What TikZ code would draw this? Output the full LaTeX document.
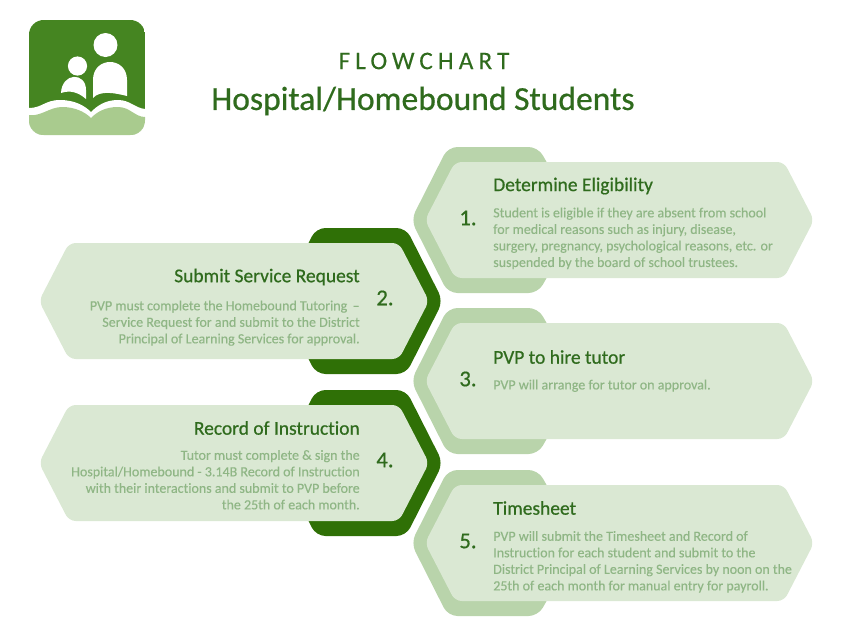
\documentclass[tikz,border=0pt]{standalone}
\usepackage{fontspec}
\setmainfont[Ligatures=NoCommon,FakeBold=0.25]{Carlito}
\newfontfamily\spacedfont[LetterSpace=20,FakeBold=0.2]{Carlito}
\newfontfamily\titlefont[Ligatures=NoCommon,FakeBold=0.6]{Carlito}
\usetikzlibrary{positioning}

\definecolor{panelfront}{HTML}{DAE8D3}
\definecolor{panelback}{HTML}{B9D4AB}
\definecolor{paneldark}{HTML}{2F7006}
\definecolor{headgreen}{HTML}{2F6B1D}
\definecolor{bodygreen}{HTML}{8FB685}
\definecolor{logogreen}{HTML}{458521}
\definecolor{logopale}{HTML}{A9CB8E}

\tikzset{
  headtext/.style={anchor=west,text=headgreen,font=\titlefont\fontsize{14.6}{16}\selectfont},
  bodytext/.style={anchor=north west,align=left,text=bodygreen,font=\fontsize{10.5}{12.4}\selectfont},
  numtext/.style={text=headgreen,font=\titlefont\fontsize{17}{18}\selectfont},
}
% #1 = middle of the row
\newcommand{\rightpanel}[1]{
  \fill[panelback,rounded corners=7pt] (411,#1) -- (448,#1-73) -- (538,#1-73) -- (580,#1) -- (538,#1+73) -- (448,#1+73) -- cycle;
  \fill[panelfront,rounded corners=5pt] (425,#1) -- (455,#1-58) -- (784,#1-58) -- (814,#1) -- (784,#1+58) -- (455,#1+58) -- cycle;
}
\newcommand{\leftpanel}[1]{
  \fill[paneldark,rounded corners=7pt] (280,#1) -- (316,#1-73) -- (406,#1-73) -- (443,#1) -- (406,#1+73) -- (316,#1+73) -- cycle;
  \fill[panelfront,rounded corners=5pt] (39,#1) -- (69,#1-58) -- (399,#1-58) -- (429,#1) -- (399,#1+58) -- (69,#1+58) -- cycle;
}

\begin{document}
\begin{tikzpicture}[x=0.75pt,y=-0.75pt,every node/.style={inner sep=0}]
\useasboundingbox (0,0) rectangle (844,640);

% logo
\begin{scope}
  \clip[rounded corners=11pt] (29,20) rectangle (145,135);
  \fill[logogreen] (29,20) rectangle (145,135);
  \fill[white] (29,108) .. controls (42,108) and (45,100) .. (60,100) .. controls (75,100) and (85,106) .. (91,112) .. controls (97,106) and (105,100) .. (118,100) .. controls (130,100) and (135,108) .. (145,109) -- (145,135) -- (29,135) -- cycle;
  \fill[logopale] (29,115) .. controls (40,117) and (50,107) .. (62,107) .. controls (75,107) and (85,112) .. (91,118) .. controls (97,112) and (105,107) .. (118,107) .. controls (130,107) and (135,117) .. (145,117) -- (145,135) -- (29,135) -- cycle;
\end{scope}
\fill[white] (105.5,45) circle [radius=9pt];
\fill[white] (77.5,66) circle [radius=7.2pt];
\fill[white] (93,98) -- (93,80) .. controls (93,56) and (127,56) .. (127,80) -- (127,96) .. controls (115,93) and (100,90) .. (93,98) -- cycle;
\fill[white] (61,93) .. controls (62,72) and (86,72) .. (86,90) -- (86,99) .. controls (78,92) and (70,90) .. (61,93) -- cycle;

% title
\node (flowtitle) at (424,61) {\spacedfont\fontsize{19}{20}\selectfont\color{headgreen}FLOWCHART};
\node (maintitle) at (423,101) {\titlefont\fontsize{25.2}{28}\selectfont\color{headgreen}Hospital/Homebound Students};

% panels
\foreach \rowy in {220,381,543} {\rightpanel{\rowy}}
\foreach \rowy in {301,463} {\leftpanel{\rowy}}

% 1
\node [numtext] (num1) at (468,218) {1.};
\node [headtext] (head1) at (493,186) {Determine Eligibility};
\node [bodytext, below=9.5pt of head1.south west, anchor=north west] (body1) {Student is eligible if they are absent from school\\for medical reasons such as injury, disease,\\surgery, pregnancy, psychological reasons, etc. or\\suspended by the board of school trustees.};

% 2
\node [numtext] (num2) at (385,298) {2.};
\node [headtext, anchor=east] (head2) at (360,277) {Submit Service Request};
\node [bodytext, align=right, below=11pt of head2.south east, anchor=north east] (body2) {PVP must complete the Homebound Tutoring \,--\\Service Request for and submit to the District\\Principal of Learning Services for approval.};

% 3
\node [numtext] (num3) at (468,379) {3.};
\node [headtext] (head3) at (493,357) {PVP to hire tutor};
\node [bodytext, below=11.5pt of head3.south west, anchor=north west] (body3) {PVP will arrange for tutor on approval.};

% 4
\node [numtext] (num4) at (385,460) {4.};
\node [headtext, anchor=east] (head4) at (360,428) {Record of Instruction};
\node [bodytext, align=right, below=11pt of head4.south east, anchor=north east] (body4) {Tutor must complete \& sign the\\Hospital/Homebound - 3.14B Record of Instruction\\with their interactions and submit to PVP before\\the 25th of each month.};

% 5
\node [numtext] (num5) at (468,541) {5.};
\node [headtext] (head5) at (493,508) {Timesheet};
\node [bodytext, below=11.75pt of head5.south west, anchor=north west] (body5) {PVP will submit the Timesheet and Record of\\Instruction for each student and submit to the\\District Principal of Learning Services by noon on the\\25th of each month for manual entry for payroll.};

\end{tikzpicture}
\end{document}
